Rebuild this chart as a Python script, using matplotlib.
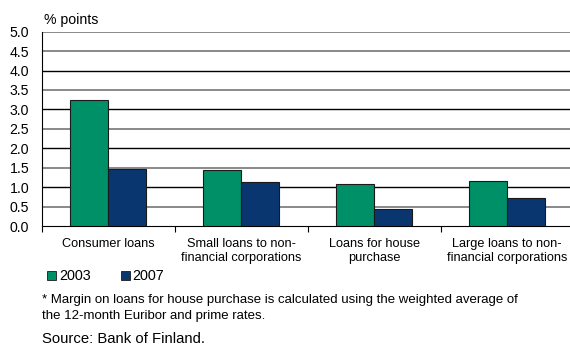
import matplotlib
matplotlib.use("Agg")
import matplotlib.pyplot as plt
import numpy as np
from matplotlib.patches import Rectangle

categories = ["Consumer loans", "Small loans to non-\nfinancial corporations",
              "Loans for house\npurchase", "Large loans to non-\nfinancial corporations"]
series_names = ["2003", "2007"]
values_2003 = [3.23, 1.43, 1.07, 1.15]
values_2007 = [1.46, 1.13, 0.43, 0.72]
yticks = [0.0, 0.5, 1.0, 1.5, 2.0, 2.5, 3.0, 3.5, 4.0, 4.5, 5.0]
colors = ["#009068", "#0A3670"]

plt.rcParams['font.family'] = ['Liberation Sans', 'DejaVu Sans']

W, H = 570, 347
fig = plt.figure(figsize=(W / 100, H / 100), dpi=100)
x0, x1 = 41.7, 573.7
y0, y1 = 226.0, 31.7
ax = fig.add_axes([x0 / W, 1 - y0 / H, (x1 - x0) / W, (y0 - y1) / H])

x = np.arange(len(categories))
bw = 0.286
for i, (vals, c) in enumerate(zip([values_2003, values_2007], colors)):
    ax.bar(x + (i - 0.5) * bw, vals, width=bw, color=c, edgecolor="#1a1a1a",
           linewidth=0.8, zorder=3, label=series_names[i])

ax.set_xlim(-0.5, len(categories) - 0.5)
ax.set_ylim(0, 5.0)
ax.set_yticks(yticks)
ax.set_yticklabels([f"{t:.1f}" for t in yticks], fontsize=10.2)
for t in yticks[1:]:
    is_int = abs(t - round(t)) < 1e-9 and t < 5
    ax.axhline(t, color="black" if is_int else "#808080",
               linewidth=1.0 if is_int else 1.3, zorder=1)

ax.set_xticks(np.arange(len(categories) + 1) - 0.5)
ax.set_xticklabels([])
ax.tick_params(axis='x', length=4, width=0.8, direction='out')
ax.tick_params(axis='y', length=0, pad=9)
for i, lab in enumerate(categories):
    ax.text(i, -0.3, lab, ha='center', va='top', fontsize=9.2,
            linespacing=1.25, transform=ax.transData)

for s in ["top", "right"]:
    ax.spines[s].set_visible(False)
ax.spines["left"].set_linewidth(0.8)
ax.spines["bottom"].set_linewidth(0.8)

fig.text(44 / W, 1 - 24 / H, "% points", fontsize=10.2, va='baseline', ha='left')

# legend
leg_sq = [47.3, 120.7]
for i, (name, c) in enumerate(zip(series_names, colors)):
    lx = leg_sq[i]
    fig.patches.append(Rectangle((lx / W, 1 - 279.5 / H), 9 / W, 9 / H,
                                 transform=fig.transFigure, facecolor=c,
                                 edgecolor="#1a1a1a", linewidth=0.6))
    fig.text((lx + 11.5) / W, 1 - 275.5 / H, name, fontsize=10.4, va='center', ha='left')

fig.text(42 / W, 1 - 300 / H,
         "* Margin on loans for house purchase is calculated using the weighted average of",
         fontsize=9.55, va='center', ha='left')
fig.text(42 / W, 1 - 316 / H, "the 12-month Euribor and prime rates.",
         fontsize=9.55, va='center', ha='left')
fig.text(42.5 / W, 1 - 339 / H, "Source: Bank of Finland.", fontsize=10.7,
         va='center', ha='left')

fig.savefig("out.png", dpi=100)
